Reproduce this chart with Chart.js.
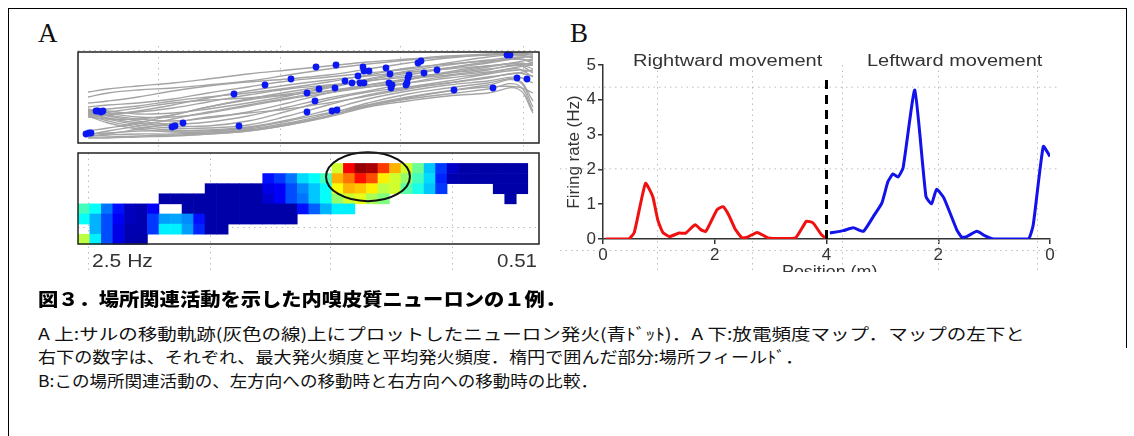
<!DOCTYPE html>
<html>
<head>
<meta charset="utf-8">
<script src="https://cdn.jsdelivr.net/npm/chart.js@4.4.1/dist/chart.umd.min.js"></script>
<style>
  body { margin: 0; width: 1134px; height: 436px; background: #fff; position: relative; overflow: hidden; font-family: "Liberation Sans", Arial, sans-serif; }
  canvas { position: absolute; }
  .t { position: absolute; white-space: nowrap; line-height: 1; transform-origin: left top; }
  .panel { font-family: "Liberation Serif", serif; font-size: 27px; color: #111; }
  .hz { font-size: 19px; color: #333; }
  .bt { font-size: 16px; color: #333; }
  .cap { font-family: "Noto Sans CJK JP", sans-serif; font-size: 16px; color: #111; }
  .capTitle { font-family: "Noto Sans CJK JP", sans-serif; font-size: 18px; font-weight: 900; color: #000; }
  #frame { position: absolute; left: 8px; top: 8px; width: 1118px; height: 500px; border-left: 1.5px solid #000; border-top: 1.5px solid #000; }
  #rightEdge { position: absolute; left: 1126px; top: 8px; width: 0; height: 340px; border-left: 1.5px solid #000; }
  #clipB { position: absolute; left: 760px; top: 255px; width: 140px; height: 17px; overflow: hidden; }
</style>
</head>
<body>
<div id="frame"></div>
<div id="rightEdge"></div>

<div class="t panel" style="left:38px; top:20px;">A</div>
<div class="t panel" style="left:570px; top:20px;">B</div>

<canvas id="traj" width="477" height="107" style="left:70px; top:44px;"></canvas>
<canvas id="heat" width="477" height="130" style="left:70px; top:145px;"></canvas>
<div class="t hz" data-w="61" style="left:92px; top:251px;">2.5 Hz</div>
<div class="t hz" data-w="40" style="left:497px; top:251px;">0.51</div>

<canvas id="rate" width="510" height="232" style="left:555px; top:40px;"></canvas>
<div class="t bt" data-w="189" style="left:633px; top:53px;">Rightward movement</div>
<div class="t bt" data-w="176" style="left:867px; top:53px;">Leftward movement</div>
<div id="clipB"><div class="t bt" data-w="95" style="left:22px; top:9px;">Position (m)</div></div>

<div class="t capTitle" data-w="527" style="left:38px; top:289px;">図３．場所関連活動を示した内嗅皮質ニューロンの１例．</div>
<div class="t cap" data-w="987" style="left:38px; top:325px;">A 上:サルの移動軌跡(灰色の線)上にプロットしたニューロン発火(青ﾄﾞｯﾄ)．A 下:放電頻度マップ．マップの左下と</div>
<div class="t cap" data-w="765" style="left:38px; top:348px;">右下の数字は、それぞれ、最大発火頻度と平均発火頻度．楕円で囲んだ部分:場所フィールﾄﾞ．</div>
<div class="t cap" data-w="560" style="left:38px; top:372px;">B:この場所関連活動の、左方向への移動時と右方向への移動時の比較．</div>

<script>
// ---- panel A (top): walking trajectories + spike positions ----
const trajX = [10, 30, 60, 95, 130, 170, 210, 250, 290, 330, 370, 410, 440, 455];
const trajY = [
    [51, 54, 57, 60, 64, 69, 73, 77, 81, 84, 87, 89, 90, 89],
    [46, 50, 53, 55, 58, 62, 68, 74, 79, 83, 86, 88, 89, 88],
    [40, 42, 46, 52, 57, 61, 64, 68, 74, 80, 85, 88, 88, 86],
    [36, 38, 40, 44, 50, 56, 62, 66, 70, 74, 80, 86, 88, 85],
    [33, 34, 37, 42, 46, 50, 55, 61, 68, 75, 79, 82, 84, 82],
    [32, 30, 31, 35, 41, 48, 54, 58, 62, 68, 75, 81, 84, 80],
    [33, 32, 29, 30, 34, 40, 47, 55, 63, 70, 74, 77, 80, 78],
    [34, 30, 26, 26, 30, 37, 44, 50, 56, 63, 71, 77, 79, 74],
    [32, 28, 24, 22, 25, 31, 40, 50, 58, 64, 68, 73, 78, 70],
    [31, 27, 22, 19, 21, 27, 36, 45, 52, 60, 67, 71, 74, 66],
    [30, 25, 20, 17, 17, 22, 32, 43, 51, 56, 62, 69, 73, 72],
    [29, 24, 18, 15, 15, 18, 27, 38, 48, 55, 60, 65, 70, 67],
    [28, 22, 16, 13, 13, 16, 23, 33, 44, 52, 58, 62, 66, 60],
    [27, 20, 14, 11, 11, 14, 20, 29, 40, 49, 55, 60, 63, 42],
    [9, 10, 12, 12, 12, 15, 22, 30, 38, 45, 52, 58, 62, 36],
    [7, 8, 9, 9, 10, 13, 19, 27, 37, 44, 49, 54, 58, 32],
    [6, 6, 7, 8, 9, 12, 18, 26, 36, 42, 47, 50, 54, 30],
    [5, 5, 6, 7, 9, 12, 18, 27, 38, 46, 52, 56, 56, 50],
    [8, 12, 17, 24, 31, 38, 45, 52, 58, 64, 70, 76, 81, 84],
    [12, 15, 20, 28, 36, 44, 51, 57, 62, 66, 70, 74, 78, 80],
    [27, 28, 32, 38, 45, 52, 58, 63, 67, 71, 75, 80, 85, 87],
    [29, 31, 35, 40, 43, 45, 49, 56, 64, 72, 78, 83, 86, 86],
    [26, 24, 24, 28, 36, 43, 48, 52, 56, 60, 65, 70, 76, 78],
    [7, 9, 14, 20, 26, 30, 34, 40, 47, 54, 60, 66, 70, 73]
];
const spikeX = [18, 20, 23, 25, 8, 11, 13, 94, 97, 105, 156, 161, 187, 213, 229, 237, 229, 238, 241, 254, 259,
    258, 257, 267, 274, 280, 285, 286, 291, 282, 286, 308, 312, 311, 314, 313, 329, 330, 331, 328,
    340, 343, 346, 359, 376, 415, 429, 432, 439, 449];
const spikeY = [32, 32, 31, 32, 9, 10, 10, 16, 17, 20, 49, 17, 58, 64, 50, 42, 31, 76, 54, 32, 33,
    78, 55, 62, 60, 67, 76, 72, 72, 60, 60, 75, 69, 60, 58, 55, 60, 65, 68, 58,
    80, 82, 70, 73, 53, 55, 88, 88, 65, 64];

// ---- panel A (bottom): rate map, Hz per bin (null = not visited) ----
const blank = n => Array(n).fill(null);
const heatRow0 = blank(40);
const heatRow1 = [...blank(22), 1.45, 2.2, 2.45, 2.4, 2.05, 1.75, 1.45, 1.2, 0.8, 0.45, 0.18, 0.1, 0.1, 0.1, 0.1, 0.1, 0.1, null];
const heatRow2 = [...blank(16), 0.35, 0.45, 0.6, 0.85, 0.95, 1.1, 1.75, 1.9, 2.15, 2.0, 1.6, 1.45, 1.3, 1.1, 0.85, 0.4, 0.12, 0.1, 0.1, 0.1, 0.1, 0.1, 0.1, null];
const heatRow3 = [...blank(11), 0.1, 0.1, 0.1, 0.1, 0.1, 0.25, 0.3, 0.5, 0.65, 0.8, 0.95, 1.55, 1.75, 1.7, 1.6, 1.4, 1.45, 1.15, 1.0, 0.8, 0.45, ...blank(4), 0.1, 0.1, 0.1, null];
const heatRow4 = [...blank(7), 0.1, 0.1, 0.1, 0.1, 0.1, 0.1, 0.1, 0.1, 0.1, 0.2, 0.3, 0.5, 0.6, 0.8, 0.95, 1.3, 1.45, 1.5, 1.35, 1.25, ...blank(10), 0.1, null, null];
const heatRow5 = [1.1, 0.95, 0.6, 0.35, 0.15, 0.12, 0.3, null, null, 0.1, 0.1, 0.1, 0.1, 0.1, 0.1, 0.1, 0.1, 0.1, 0.1, 0.35, 0.55, 0.75, 0.9, 0.9, ...blank(16)];
const heatRow6 = [0.95, 0.75, 0.5, 0.3, 0.15, 0.12, 0.45, 0.7, 0.72, 0.65, 0.35, 0.1, 0.1, 0.1, 0.1, 0.1, 0.1, 0.1, 0.1, ...blank(21)];
const heatRow7 = [null, 0.75, 0.5, 0.25, 0.12, 0.12, 0.45, 0.9, 0.9, 0.7, 0.4, 0.1, 0.1, ...blank(27)];
const heatRow8 = [1.4, 0.9, 0.5, 0.25, 0.12, 0.1, ...blank(34)];
const heatRows = [heatRow0, heatRow1, heatRow2, heatRow3, heatRow4, heatRow5, heatRow6, heatRow7, heatRow8];
const heatMaxHz = 2.5;
// place field ellipse, in bin units
const fieldCenter = [25.16, 2.34];
const fieldRadius = [3.64, 2.42];

// ---- panel B: firing rate vs position ----
const redPos = [0.05, 0.46, 0.56, 0.76, 0.89, 0.98, 1.07, 1.19, 1.36, 1.48, 1.65, 1.75, 1.84, 2.04, 2.15, 2.25, 2.37, 2.49, 2.58, 2.76, 2.96, 3.44, 3.64, 3.76, 3.91, 4.0];
const redRate = [0, 0, 0.19, 1.60, 1.22, 0.55, 0.19, 0.07, 0.17, 0.17, 0.41, 0.27, 0.22, 0.84, 0.93, 0.69, 0.27, 0.03, 0.05, 0.19, 0.03, 0.03, 0.51, 0.46, 0.12, 0];
const bluePos = [3.94, 3.70, 3.52, 3.34, 3.16, 3.01, 2.90, 2.81, 2.72, 2.63, 2.42, 2.22, 2.12, 2.03, 1.90, 1.67, 1.58, 1.49, 1.31, 1.16, 1.01, 0.39, 0.30, 0.12, 0.0];
const blueRate = [0.17, 0.24, 0.32, 0.22, 0.65, 1.03, 1.65, 1.87, 1.78, 2.04, 4.28, 1.22, 1.01, 1.43, 1.18, 0.27, 0.05, 0.07, 0.22, 0.09, 0, 0, 0.41, 2.66, 2.37];
const trackLen = 4;
const dividerTop = 4.7;

const jet = (t) => {
    t = Math.max(0, Math.min(1, t));
    const f = v => Math.round(255 * Math.max(0, Math.min(1, 1.5 - Math.abs(v))));
    return `rgb(${f(4 * t - 3)},${f(4 * t - 2)},${f(4 * t - 1)})`;
};

const boxBorder = {
    id: 'boxBorder',
    afterDraw(chart, args, opts) {
        const { ctx, chartArea: a } = chart;
        ctx.save();
        ctx.strokeStyle = opts.color;
        ctx.lineWidth = opts.width;
        ctx.strokeRect(a.left, a.top, a.right - a.left, a.bottom - a.top);
        ctx.restore();
    }
};

// faint dotted lines of the scanned page
const paperDots = {
    id: 'paperDots',
    beforeDatasetsDraw(chart, args, opts) {
        const ctx = chart.ctx;
        ctx.save();
        ctx.strokeStyle = '#bdbdbd';
        ctx.lineWidth = 1;
        ctx.setLineDash([1.5, 4]);
        (opts.h || []).forEach(([y, x0, x1]) => {
            ctx.beginPath(); ctx.moveTo(x0, y + 0.5); ctx.lineTo(x1, y + 0.5); ctx.stroke();
        });
        (opts.v || []).forEach(([x, y0, y1]) => {
            ctx.beginPath(); ctx.moveTo(x + 0.5, y0); ctx.lineTo(x + 0.5, y1); ctx.stroke();
        });
        ctx.restore();
    }
};

const heatCells = {
    id: 'heatCells',
    beforeDatasetsDraw(chart) {
        const { ctx, scales: { x, y } } = chart;
        heatRows.forEach((row, r) => {
            row.forEach((v, c) => {
                if (v === null) return;
                const x0 = x.getPixelForValue(c), x1 = x.getPixelForValue(c + 1);
                const y0 = y.getPixelForValue(r), y1 = y.getPixelForValue(r + 1);
                ctx.fillStyle = jet(v / heatMaxHz);
                ctx.fillRect(x0, y0, x1 - x0 + 0.6, y1 - y0 + 0.6);
            });
        });
    }
};

const placeField = {
    id: 'placeField',
    afterDatasetsDraw(chart) {
        const { ctx, scales: { x, y } } = chart;
        const cx = x.getPixelForValue(fieldCenter[0]);
        const cy = y.getPixelForValue(fieldCenter[1]);
        const rx = x.getPixelForValue(fieldCenter[0] + fieldRadius[0]) - cx;
        const ry = y.getPixelForValue(fieldCenter[1] + fieldRadius[1]) - cy;
        ctx.save();
        ctx.strokeStyle = '#111';
        ctx.lineWidth = 2;
        ctx.beginPath();
        ctx.ellipse(cx, cy, Math.abs(rx), Math.abs(ry), 0, 0, Math.PI * 2);
        ctx.stroke();
        ctx.restore();
    }
};

const quiet = { legend: { display: false }, tooltip: { enabled: false } };
const tickFont = { size: 17, family: 'Liberation Sans' };

// trajectories
new Chart(document.getElementById('traj'), {
    type: 'scatter',
    data: {
        datasets: [
            {
                data: spikeX.map((x, i) => ({ x, y: spikeY[i] })),
                backgroundColor: '#0b18f2', borderColor: '#0b18f2',
                pointRadius: 3.4, pointBorderWidth: 0, clip: 8
            },
            ...trajY.map(ys => ({
                type: 'line',
                data: ys.map((y, i) => ({ x: trajX[i], y })),
                borderColor: '#a4a4a4', borderWidth: 1.3,
                pointRadius: 0, tension: 0.4, fill: false
            }))
        ]
    },
    options: {
        responsive: false, animation: false, devicePixelRatio: 1,
        layout: { padding: 8 },
        scales: {
            x: { type: 'linear', min: 0, max: 461, display: false },
            y: { type: 'linear', min: 0, max: 91, display: false }
        },
        plugins: {
            ...quiet,
            boxBorder: { color: '#222', width: 1.5 },
            paperDots: { v: [[88, 2, 107], [210, 2, 107], [330, 2, 107], [453, 2, 107]], h: [[6, 8, 469]] }
        }
    },
    plugins: [paperDots, boxBorder]
});

// rate map
new Chart(document.getElementById('heat'), {
    type: 'scatter',
    data: { datasets: [] },
    options: {
        responsive: false, animation: false, devicePixelRatio: 1,
        layout: { padding: { left: 8, right: 8, top: 8, bottom: 31 } },
        scales: {
            x: { type: 'linear', min: 0, max: heatRow0.length, display: false },
            y: { type: 'linear', min: 0, max: heatRows.length, reverse: true, display: false }
        },
        plugins: {
            ...quiet,
            boxBorder: { color: '#222', width: 1.5 },
            paperDots: { v: [[18, 8, 128], [140, 8, 128], [260, 8, 128], [382, 8, 128]], h: [[82, 8, 469]] }
        }
    },
    plugins: [paperDots, heatCells, placeField, boxBorder]
});

// firing rate curves
new Chart(document.getElementById('rate'), {
    type: 'line',
    data: {
        datasets: [
            {
                data: [{ x: trackLen, y: 0 }, { x: trackLen, y: dividerTop }],
                borderColor: '#000', borderWidth: 3, borderDash: [9, 6], pointRadius: 0
            },
            {
                data: redPos.map((p, i) => ({ x: p, y: redRate[i] })),
                borderColor: '#f01010', borderWidth: 3, pointRadius: 0, tension: 0.15
            },
            {
                data: bluePos.map((p, i) => ({ x: 2 * trackLen - p, y: blueRate[i] })),
                borderColor: '#1212ea', borderWidth: 3, pointRadius: 0, tension: 0.15
            }
        ]
    },
    options: {
        responsive: false, animation: false, devicePixelRatio: 1,
        layout: { padding: { left: 0, top: 25, right: 15, bottom: 0 } },
        scales: {
            x: {
                type: 'linear', min: 0, max: 2 * trackLen,
                ticks: {
                    stepSize: 2, padding: 1, color: '#333', font: tickFont,
                    callback: v => (v <= trackLen ? v : 2 * trackLen - v)
                },
                grid: { drawOnChartArea: false, tickLength: 5, color: '#333', lineWidth: 1.5 },
                border: { color: '#333', width: 1.5 },
                afterFit: s => { s.height = 33; }
            },
            y: {
                min: 0, max: 5,
                ticks: { stepSize: 1, padding: 2, color: '#333', font: tickFont },
                grid: { drawOnChartArea: false, tickLength: 5, color: '#333', lineWidth: 1.5 },
                border: { color: '#333', width: 1.5 },
                title: { display: true, text: 'Firing rate (Hz)', color: '#333', font: { size: 17, family: 'Liberation Sans' }, padding: { top: 9, bottom: 0 } },
                afterFit: s => { s.width = 48; }
            }
        },
        plugins: {
            ...quiet,
            paperDots: {
                h: [[46.7, 5, 505], [128.3, 5, 505], [210, 5, 505]],
                v: [[102, 25, 232], [197, 25, 232], [287, 25, 232], [383, 25, 232], [482, 25, 232]]
            }
        }
    },
    plugins: [paperDots]
});

// stretch texts to the widths they have in the scan
document.querySelectorAll('[data-w]').forEach(el => {
    const w = el.offsetWidth;
    if (w > 0) el.style.transform = `scaleX(${(+el.dataset.w / w).toFixed(4)})`;
});
</script>
</body>
</html>
